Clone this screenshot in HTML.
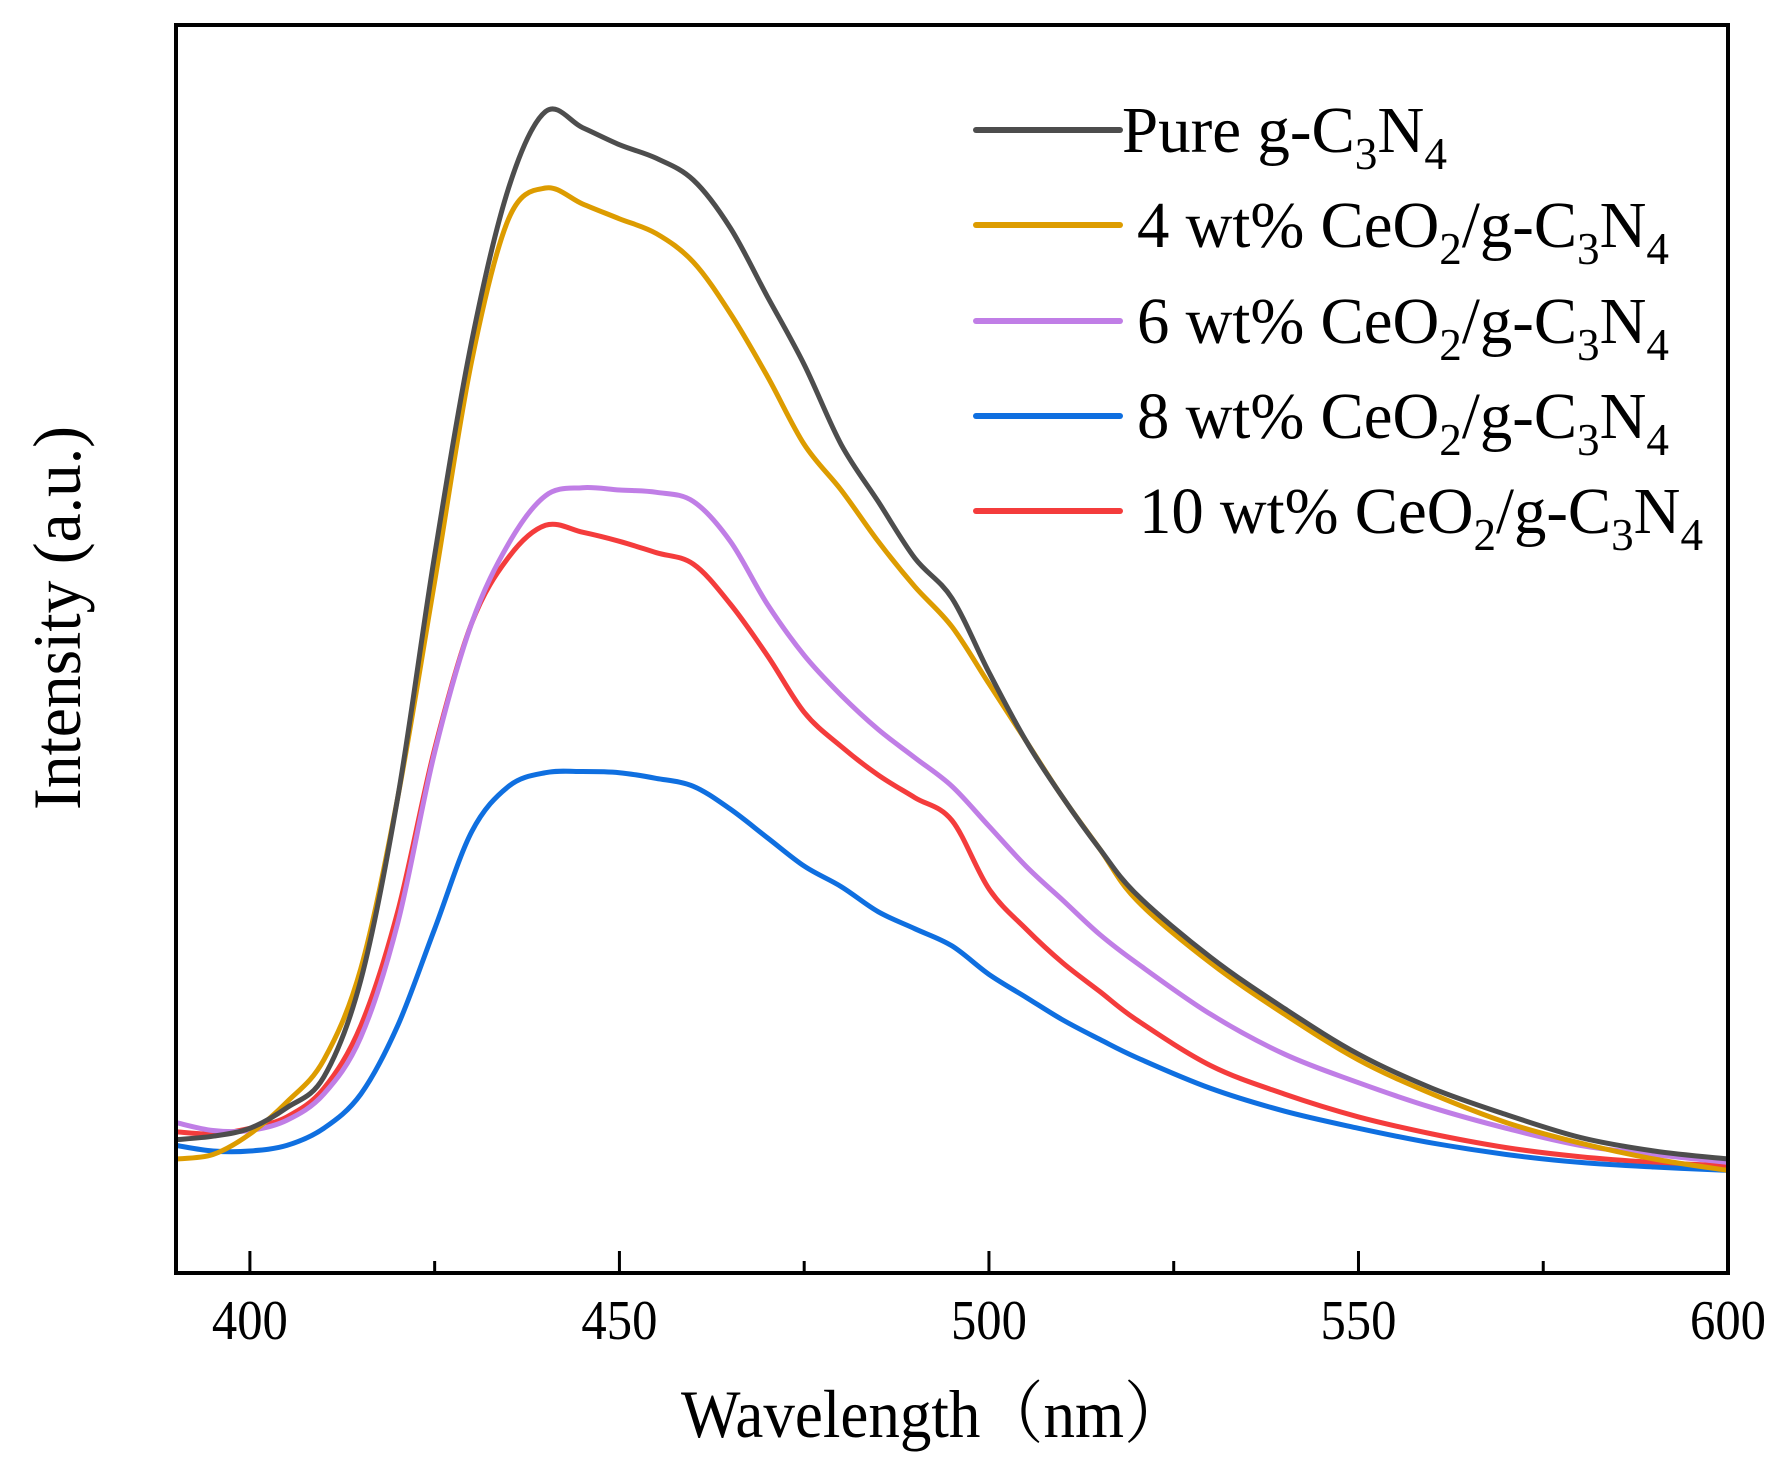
<!DOCTYPE html>
<html><head><meta charset="utf-8"><style>
html,body{margin:0;padding:0;background:#fff;}
svg{display:block;}
text{font-family:"Liberation Serif","Noto Serif CJK SC",serif;fill:#000;}
</style></head><body>
<svg id="chart" width="1784" height="1479" viewBox="0 0 1784 1479" xmlns="http://www.w3.org/2000/svg">
<g id="series"></g>
<rect x="176" y="25" width="1552" height="1248" fill="none" stroke="#000" stroke-width="4"/>
<g id="ticks"></g>
<text x="681" y="1437" font-size="68" textLength="506" lengthAdjust="spacingAndGlyphs">Wavelength（nm）</text>
<text transform="translate(80,810) rotate(-90)" x="0" y="0" font-size="68" textLength="384" lengthAdjust="spacingAndGlyphs">Intensity (a.u.)</text>
<g id="legend"></g>
</svg>
<script>
const wavelengths=[390,395,400,405,410,415,420,425,430,435,440,445,450,455,460,465,470,475,480,485,490,495,500,505,510,515,520,530,540,550,560,570,580,590,600];
const pureValues=[117,120,127,145,172,257,417,630,817,952,1019,1005,990,978,959,917,857,797,727,677,627,592,527,467,417,372,332,277,232,192,162,139,119,107,100];
const wt4Values=[100,104,122,150,187,267,417,607,800,925,952,938,925,912,887,842,787,727,687,642,602,567,517,467,417,372,327,272,227,187,157,132,114,100,90];
const wt6Values=[132,125,125,134,157,207,307,457,570,640,682,689,687,685,677,642,587,542,507,477,452,427,392,357,327,297,272,227,192,167,145,127,112,104,97];
const wt8Values=[112,107,107,112,127,157,217,302,387,427,439,440,439,434,427,407,382,357,339,317,302,287,262,242,222,205,189,162,142,127,114,104,97,93,90];
const wt10Values=[124,122,127,137,162,217,317,460,570,628,656,650,642,632,622,587,542,492,462,437,417,397,337,302,272,247,222,182,157,137,122,110,102,97,94];
const xTicks=[400,450,500,550,600];
const xMinorTicks=[425,475,525,575];
const seriesNames=["pure","4wt","6wt","8wt","10wt"];
const seriesColors=["#4d4d4d","#dd9c00","#c07ee6","#0f6fe0","#f43c3c"];
const seriesLabels=[["Pure g-C","3","N","4",""],["4 wt% CeO","2","/g-C","3","N","4"],["6 wt% CeO","2","/g-C","3","N","4"],["8 wt% CeO","2","/g-C","3","N","4"],["10 wt% CeO","2","/g-C","3","N","4"]];
const allValues=[pureValues,wt4Values,wt6Values,wt8Values,wt10Values];

const NS="http://www.w3.org/2000/svg";
const X0=176,X1=1728,Y0=1273,Y1=25;
const xMin=390,xMax=600,yMin=0,yMax=1095;
function xs(v){return X0+(v-xMin)/(xMax-xMin)*(X1-X0);}
function ys(v){return Y0-(v-yMin)/(yMax-yMin)*(Y0-Y1);}
function smooth(pts){
  let d="M"+pts[0][0].toFixed(1)+","+pts[0][1].toFixed(1);
  for(let i=0;i<pts.length-1;i++){
    const p0=pts[Math.max(0,i-1)],p1=pts[i],p2=pts[i+1],p3=pts[Math.min(pts.length-1,i+2)];
    const c1x=p1[0]+(p2[0]-p0[0])/6,c1y=p1[1]+(p2[1]-p0[1])/6;
    const c2x=p2[0]-(p3[0]-p1[0])/6,c2y=p2[1]-(p3[1]-p1[1])/6;
    d+=" C"+c1x.toFixed(1)+","+c1y.toFixed(1)+" "+c2x.toFixed(1)+","+c2y.toFixed(1)+" "+p2[0].toFixed(1)+","+p2[1].toFixed(1);
  }
  return d;
}
const sg=document.getElementById("series");
[4,3,2,1,0].forEach(k=>{
  const pts=wavelengths.map((w,i)=>[xs(w),ys(allValues[k][i])]);
  const p=document.createElementNS(NS,"path");
  
  
  p.setAttribute("d",smooth(pts));
  p.setAttribute("fill","none");
  p.setAttribute("stroke",seriesColors[k]);
  p.setAttribute("stroke-width","5");
  p.setAttribute("stroke-linejoin","round");
  sg.appendChild(p);
});
const tg=document.getElementById("ticks");
xTicks.forEach(t=>{
  const l=document.createElementNS(NS,"line");
  
  
  l.setAttribute("x1",xs(t));l.setAttribute("x2",xs(t));
  l.setAttribute("y1",Y0);l.setAttribute("y2",Y0-22);
  l.setAttribute("stroke","#000");l.setAttribute("stroke-width","3");
  tg.appendChild(l);
  const tx=document.createElementNS(NS,"text");
  
  
  tx.setAttribute("x",xs(t)-38);tx.setAttribute("y",1339);
  tx.setAttribute("font-size","56");
  tx.setAttribute("textLength","76");tx.setAttribute("lengthAdjust","spacingAndGlyphs");
  tx.textContent=t;
  tg.appendChild(tx);
});
xMinorTicks.forEach(t=>{
  const l=document.createElementNS(NS,"line");
  
  
  l.setAttribute("x1",xs(t));l.setAttribute("x2",xs(t));
  l.setAttribute("y1",Y0);l.setAttribute("y2",Y0-12);
  l.setAttribute("stroke","#000");l.setAttribute("stroke-width","3");
  tg.appendChild(l);
});
const lg=document.getElementById("legend");
const rowY=[130,225,321,416,511];
const textX=[1122,1137,1137,1137,1139];
const textW=[325,532,532,532,564];
seriesNames.forEach((n,k)=>{
  const l=document.createElementNS(NS,"line");
  
  
  l.setAttribute("x1",976);l.setAttribute("x2",1120);
  l.setAttribute("y1",rowY[k]);l.setAttribute("y2",rowY[k]);
  l.setAttribute("stroke",seriesColors[k]);l.setAttribute("stroke-width","6");l.setAttribute("stroke-linecap","round");
  lg.appendChild(l);
  const t=document.createElementNS(NS,"text");
  
  
  t.setAttribute("x",textX[k]);t.setAttribute("y",rowY[k]+22);
  t.setAttribute("font-size","66");
  t.setAttribute("textLength",textW[k]);t.setAttribute("lengthAdjust","spacingAndGlyphs");
  const parts=seriesLabels[k];
  parts.forEach((s,i)=>{
    if(!s)return;
    const ts=document.createElementNS(NS,"tspan");
    const sub=(i%2===1);
    if(sub){ts.setAttribute("font-size","46");ts.setAttribute("dy","17");}
    else if(i>0){ts.setAttribute("dy","-17");}
    ts.textContent=s;
    t.appendChild(ts);
  });
  lg.appendChild(t);
});
</script>
</body></html>
